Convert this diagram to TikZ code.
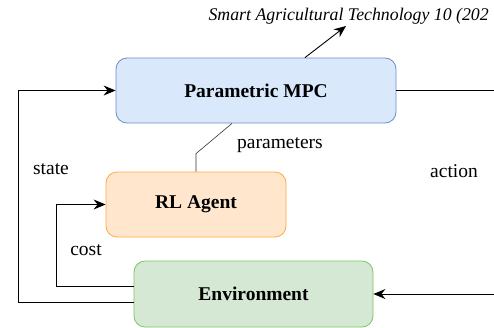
\documentclass[tikz,border=0pt]{standalone}
\usepackage{fontspec}
\setmainfont{Liberation Serif}
\usepackage{tikz}
\usetikzlibrary{positioning}
\usetikzlibrary{arrows.meta, calc}

\definecolor{mpcfill}{HTML}{DAE8FC}
\definecolor{mpcline}{HTML}{6C8EBF}
\definecolor{rlfill}{HTML}{FFE6CC}
\definecolor{rlline}{HTML}{FFA940}
\definecolor{envfill}{HTML}{D5E8D4}
\definecolor{envline}{HTML}{7CC466}

\begin{document}
\begin{tikzpicture}[x=1pt, y=-1pt,
    block/.style={rectangle, rounded corners=11pt, line width=0.8pt,
        font=\fontsize{19.5}{22}\selectfont\bfseries, inner sep=0pt},
    lbl/.style={font=\fontsize{19.5}{22}\selectfont},
    arr/.style={-{Stealth[length=12pt,width=10pt,inset=4pt]}, line width=0.9pt}]
        \useasboundingbox (0,0) rectangle (494,327);
        \clip (0,0) rectangle (494,327);

        % blocks
        \node[block, draw=mpcline, fill=mpcfill,
            minimum width=280pt, minimum height=65pt] (mpc) at
            (256,90.5) {Parametric MPC};
        \node[block, draw=rlline, fill=rlfill,
            minimum width=180pt, minimum height=65pt] (rl) at
            (196,204.5) {RL Agent};
        \node[block, draw=envline, fill=envfill,
            minimum width=239pt, minimum height=66pt] (env) at
            (253.5,294) {Environment};

        % journal line
        \node[anchor=west, font=\fontsize{17.8}{20}\selectfont\itshape] (jrnl) at
            (205,16) {Smart Agricultural Technology 10 (202};
        \coordinate (jtip) at (346,26);
        \draw[arr] ([xshift=49pt]mpc.north) -- (jtip);

        % loops on the left
        \draw[arr] ([yshift=-8pt]env.west) -- (18,302) |- (mpc.west);
        \draw[arr] ([yshift=8pt]env.west) -- (56,286) |- (rl.west);
        \draw[line width=0.6pt, black!80] (rl.north) -- ++(0,-18)
            -- ([xshift=-24pt]mpc.south);

        % action side
        \coordinate (outr) at (494,90.5);
        \coordinate (inr) at (494,294);
        \draw[line width=0.9pt] (mpc.east) -- (outr);
        \draw[arr] (inr) -- (env.east);

        \node[lbl] (st) at (51,169) {state};
        \node[lbl] (cs) at (86,250) {cost};
        \node[lbl] (pr) at (280,145) {parameters};
        \node[lbl] (ac) at (454,171) {action};
    \end{tikzpicture}
\end{document}
